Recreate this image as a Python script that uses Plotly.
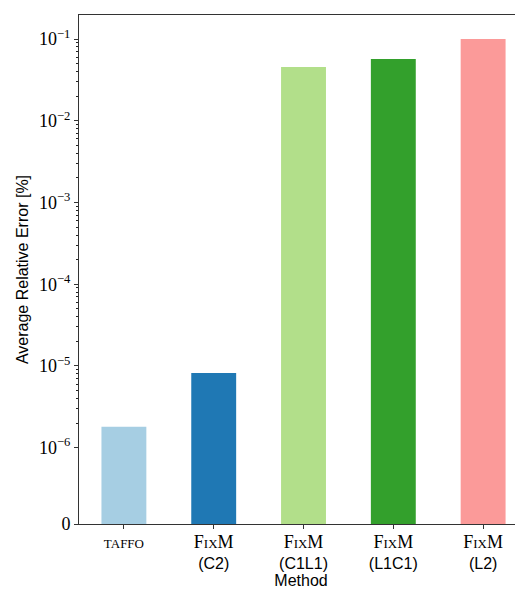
import plotly.graph_objects as go

methods = ["TAFFO", "FixM (C2)", "FixM (C1L1)", "FixM (L1C1)", "FixM (L2)"]
errors = [1.8e-6, 8.2e-6, 0.0455, 0.0569, 0.1]
colors = ["#a6cee3", "#1f78b4", "#b2df8a", "#33a02c", "#fb9a99"]

SERIF = "Liberation Serif"
SANS = "Liberation Sans"

def fixm(sub):
    return (f"<span style='font-family:{SERIF};font-size:18px'>F</span>"
            f"<span style='font-family:{SERIF};font-size:13px'>IX</span>"
            f"<span style='font-family:{SERIF};font-size:18px'>M</span>"
            f"<br><span style='font-family:{SANS};font-size:16px'>{sub}</span>")

xlabels = [f"<span style='font-family:{SERIF};font-size:13px'>TAFFO</span>",
           fixm("(C2)"), fixm("(C1L1)"), fixm("(L1C1)"), fixm("(L2)")]

y_bottom = 10 ** -6.933
ytickvals = [y_bottom, 1e-6, 1e-5, 1e-4, 1e-3, 1e-2, 1e-1]
yticktext = ["0"] + [f"10<sup>−{k}</sup>" for k in [6, 5, 4, 3, 2, 1]]
minor_vals = [m * 10.0 ** k for k in range(-6, 0) for m in range(2, 10)]
yrange = [-6.933, -0.7064]

fig = go.Figure(go.Bar(x=methods, y=errors, marker=dict(color=colors, line=dict(width=0)), width=0.5))

# the page body has an 8px default margin, so the figure is 8px smaller and shifted
fig.update_layout(
    width=515, height=584,
    margin=dict(l=71, r=0, t=7, b=68, autoexpand=False),
    plot_bgcolor="white", paper_bgcolor="white",
    showlegend=False,
    font=dict(family=SERIF, size=16, color="black"),
    yaxis2=dict(
        overlaying="y", anchor="x", side="left", type="log", range=yrange,
        tickmode="array", tickvals=minor_vals, showticklabels=False,
        ticks="outside", ticklen=2.5, tickcolor="#222", tickwidth=1,
        showgrid=False, showline=False, zeroline=False, automargin=False,
    ),
)
fig.add_trace(go.Scatter(x=[methods[0]], y=[errors[0]], yaxis="y2", mode="markers",
                         marker=dict(opacity=0), hoverinfo="skip", showlegend=False))
fig.update_xaxes(
    tickvals=methods, ticktext=xlabels,
    range=[-0.5, 4.444],
    automargin=False,
    showline=True, linecolor="#333", linewidth=1, mirror=True,
    ticks="outside", ticklen=4, tickcolor="#333",
    showgrid=False,
    title=dict(text="Method", font=dict(family=SANS, size=16), standoff=0),
)
fig.update_yaxes(
    selector=dict(overlaying=None),
    type="log",
    range=yrange,
    automargin=False,
    tickmode="array", tickvals=ytickvals, ticktext=yticktext,
    showline=True, linecolor="#333", linewidth=1,
    ticks="outside", ticklen=4, tickcolor="#333",
    showgrid=False, zeroline=False,
    tickfont=dict(family=SERIF, size=18),
    title=dict(text="Average Relative Error [%]", font=dict(family=SANS, size=16), standoff=6),
)

fig.write_html("out.html")
